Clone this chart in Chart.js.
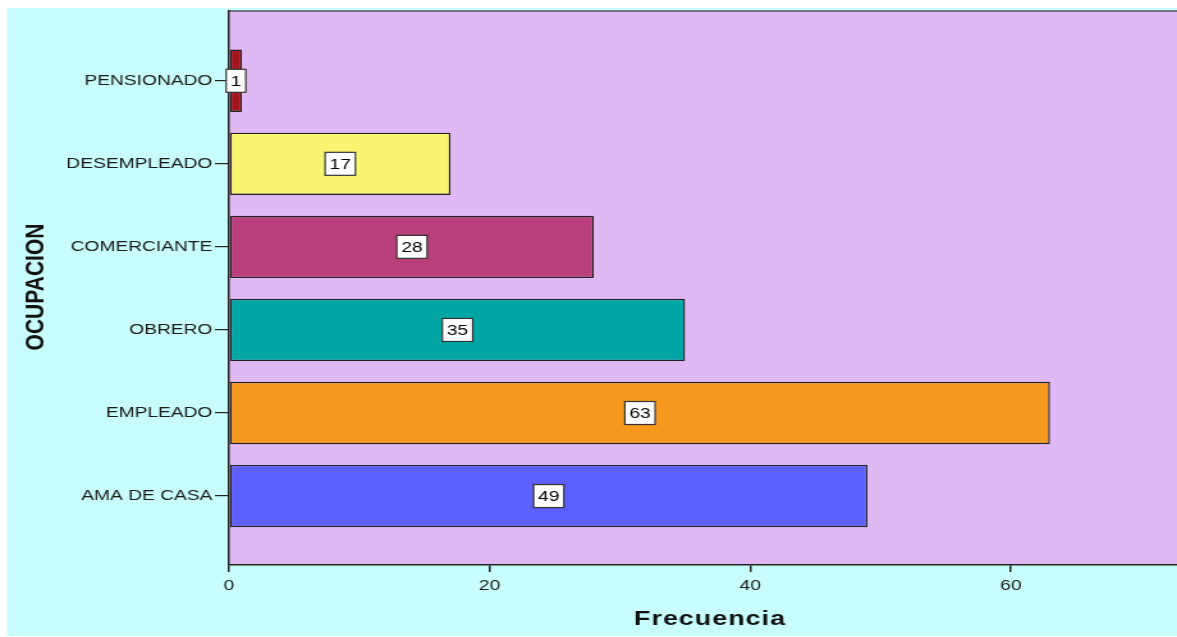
<!DOCTYPE html>
<html><head><meta charset="utf-8">
<script src="https://cdn.jsdelivr.net/npm/chart.js@4.4.0/dist/chart.umd.min.js"></script>
<style>html,body{margin:0;padding:0;background:#fff;overflow:hidden}</style></head>
<body><canvas id="c" width="920" height="637" style="display:block;width:1177px;height:637px"></canvas>
<script>
const categories = ["PENSIONADO","DESEMPLEADO","COMERCIANTE","OBRERO","EMPLEADO","AMA DE CASA"];
const frequencies = [1,17,28,35,63,49];
const barColors = ["#a3151c","#f9f573","#b93f7a","#00a6a3","#f8991f","#5c60ff"];
const xTicks = [0,20,40,60];
const xTitle = "Frecuencia";
const yTitle = "OCUPACION";
const STRETCH = 1177/920;

const decor = {
  id:'decor',
  beforeDraw(chart){
    const {ctx, chartArea:a, width, height} = chart;
    ctx.save();
    ctx.fillStyle='#fff'; ctx.fillRect(0,0,width,height);
    ctx.fillStyle='#c9fdfd'; ctx.fillRect(7/STRETCH, 8, width, 628);
    ctx.fillStyle='#dfb9f3'; ctx.fillRect(a.left,a.top,a.right-a.left,a.bottom-a.top);
    ctx.strokeStyle='#555'; ctx.lineWidth=1.5;
    ctx.beginPath(); ctx.moveTo(a.left,a.top); ctx.lineTo(a.right,a.top); ctx.stroke();
    ctx.fillStyle='#111'; ctx.font='bold 21px "Liberation Sans"';
    ctx.textAlign='center'; ctx.textBaseline='middle';
    ctx.translate(36/STRETCH, 287); ctx.rotate(-Math.PI/2); ctx.fillText(yTitle,0,0);
    ctx.restore();
    ctx.save();
    ctx.fillStyle='#111'; ctx.font='bold 21px "Liberation Sans"';
    ctx.letterSpacing='0.8px';
    ctx.textAlign='center'; ctx.textBaseline='middle';
    ctx.fillText(xTitle, 710/STRETCH, 619);
    ctx.restore();
  },
  afterDatasetsDraw(chart){
    const ctx = chart.ctx;
    const meta = chart.getDatasetMeta(0);
    ctx.save();
    ctx.font='15px "Liberation Sans"';
    ctx.textAlign='center'; ctx.textBaseline='middle';
    meta.data.forEach((bar,i)=>{
      const cx=(bar.x+bar.base)/2, cy=bar.y;
      const t=String(frequencies[i]);
      const w=ctx.measureText(t).width+7, h=23;
      ctx.fillStyle='#fff'; ctx.fillRect(cx-w/2,cy-h/2,w,h);
      ctx.strokeStyle='#333'; ctx.lineWidth=1.2; ctx.strokeRect(cx-w/2,cy-h/2,w,h);
      ctx.fillStyle='#000'; ctx.fillText(t,cx,cy+1);
    });
    ctx.restore();
  }
};

new Chart(document.getElementById('c'), {
  type:'bar',
  data:{
    labels: categories,
    datasets:[{
      data: frequencies.map((v,i)=>({x:v,y:i})),
      backgroundColor: barColors,
      borderColor:'#222', borderWidth:1.4, borderSkipped:false,
      barPercentage:0.75, categoryPercentage:1
    }]
  },
  options:{
    indexAxis:'y',
    responsive:false, devicePixelRatio:1, animation:false,
    layout:{padding:{top:9,left:0,right:0,bottom:0}},
    plugins:{legend:{display:false}, tooltip:{enabled:false}},
    scales:{
      y:{
        type:'linear', reverse:true, min:-0.84, max:5.83, offset:false,
        afterBuildTicks(s){ s.ticks = categories.map((c,i)=>({value:i})); },
        afterFit(s){ s.width = 229/STRETCH; },
        ticks:{ callback:(v)=>categories[v], color:'#1a1a1a', padding:2,
          font:{family:'"Liberation Sans"', size:15} },
        grid:{ offset:false, drawOnChartArea:false, tickLength:11, color:'#222', lineWidth:1.2 },
        border:{ color:'#222', width:1.5 }
      },
      x:{
        type:'linear', min:0, max:72.75,
        afterBuildTicks(s){ s.ticks = xTicks.map(v=>({value:v})); },
        afterFit(s){ s.height = 72; },
        ticks:{ color:'#1a1a1a', padding:5, font:{family:'"Liberation Sans"', size:15} },
        grid:{ drawOnChartArea:false, tickLength:7, color:'#222', lineWidth:1.5 },
        border:{ color:'#222', width:1.5 }
      }
    }
  },
  plugins:[decor]
});
</script></body></html>
